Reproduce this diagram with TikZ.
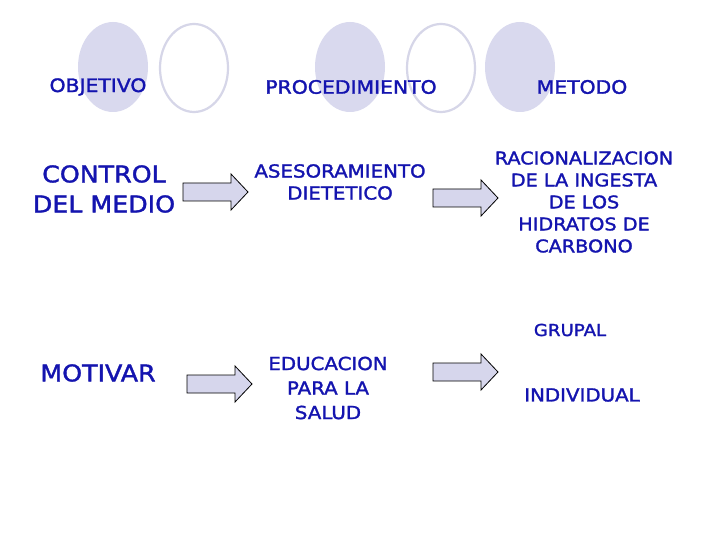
\documentclass[tikz,border=0pt]{standalone}
\usepackage{fontspec}
\setmainfont{DejaVu Sans}[FakeStretch=1.1,FakeBold=1.6]
\definecolor{txtblue}{RGB}{20,20,175}
\definecolor{lav}{RGB}{217,217,238}
\definecolor{lavline}{RGB}{214,214,232}
\definecolor{arrfill}{RGB}{214,214,236}
\begin{document}
\begin{tikzpicture}[x=1pt,y=-1pt,
  txt/.style={text=txtblue,inner sep=0pt,align=center},
  hdr/.style={txt,font=\fontsize{18.5}{22}\selectfont},
  med/.style={txt,font=\fontsize{18}{22}\selectfont},
  big/.style={txt,font=\fontsize{23}{30}\selectfont},
  fillell/.style={fill=lav,draw=none},
  lineell/.style={draw=lavline,line width=2.2pt,fill=white},
  arrowstyle/.style={draw=black,line width=0.8pt,fill=arrfill,line join=miter},
  blockarrow/.pic={\draw[arrowstyle] (0,-9) -- (48,-9) -- (48,-18) -- (65,0) -- (48,18) -- (48,9) -- (0,9) -- cycle;}
]
\useasboundingbox[fill=white] (0,0) rectangle (720,540);
% decorative ellipses
\fill[fillell] (113,67) ellipse [x radius=35, y radius=45];
\draw[lineell] (194,68) ellipse [x radius=34, y radius=44];
\fill[fillell] (350,67) ellipse [x radius=35, y radius=45];
\draw[lineell] (441,68) ellipse [x radius=34, y radius=44];
\fill[fillell] (520,67) ellipse [x radius=35, y radius=45];
% headers
\node[hdr] (obj) at (98,87) {OBJETIVO};
\node[hdr] (proc) at (351,87) {PROCEDIMIENTO};
\node[hdr] (met) at (582,87) {METODO};
% row 1
\node[big] (control) at (104,189) {CONTROL\\DEL MEDIO};
\node[med] (ases) at (340,182) {ASESORAMIENTO\\DIETETICO};
\node[med,font=\fontsize{17.5}{22}\selectfont] (rac) at (584,202) {RACIONALIZACION\\DE LA INGESTA\\DE LOS\\HIDRATOS DE\\CARBONO};
% row 2
\node[med,font=\fontsize{16.5}{20}\selectfont] (grupal) at (570,330) {GRUPAL};
\node[big] (motivar) at (98,373) {MOTIVAR};
\node[med,font=\fontsize{18}{24.5}\selectfont] (edu) at (328,388) {EDUCACION\\PARA LA\\SALUD};
\node[med] (indiv) at (582,395) {INDIVIDUAL};
% block arrows
\pic at (183,192) {blockarrow};
\pic at (433,198) {blockarrow};
\pic at (187,384) {blockarrow};
\pic at (433,372) {blockarrow};
\end{tikzpicture}
\end{document}
